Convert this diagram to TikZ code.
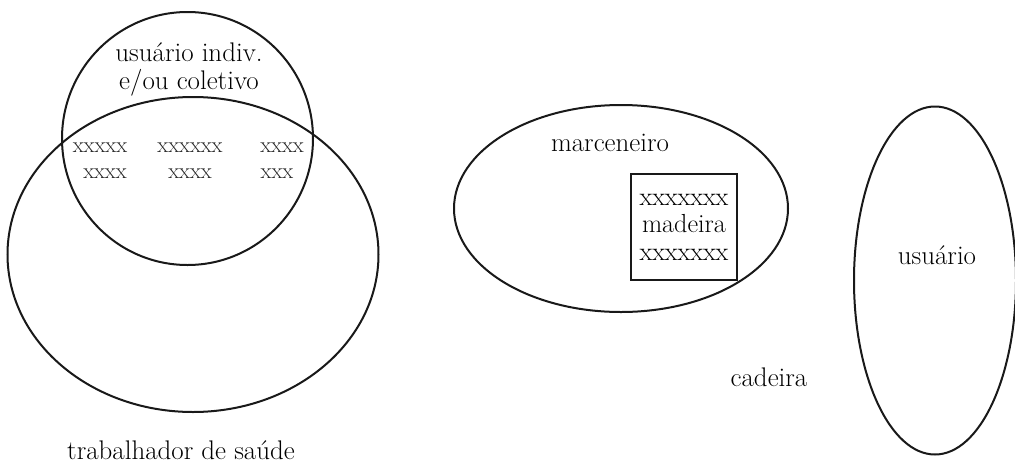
\documentclass[tikz,border=0pt]{standalone}
\usetikzlibrary{shapes.geometric}
\begin{document}
\begin{tikzpicture}[x=0.75pt,y=-0.75pt,
  shapeline/.style={draw=black!90,line width=1.5pt},
  oval/.style={shapeline,ellipse,inner sep=0pt},
  lbl/.style={font=\fontsize{20.2}{21}\selectfont,text=black,inner sep=0pt,align=center},
  xlbl/.style={font=\fontsize{16.8}{18}\selectfont,text=black!85,inner sep=0pt}]
\useasboundingbox (0,0) rectangle (1015,465);
\clip (0,0) rectangle (1015,465);
% left Venn diagram
\node[oval,minimum width=371*0.75pt,minimum height=315*0.75pt] (trab) at (193,254.5) {};
\node[oval,minimum width=251*0.75pt,minimum height=253*0.75pt] (usu) at (187.5,138.5) {};
\node[lbl] (usutxt) at (189,69) {usuário indiv.\\e/ou coletivo};
\node[xlbl] (x11) at (100,148) {xxxxx};
\node[xlbl] (x12) at (190,148) {xxxxxx};
\node[xlbl] (x13) at (282,148) {xxxx};
\node[xlbl] (x21) at (105,174) {xxxx};
\node[xlbl] (x22) at (190,174) {xxxx};
\node[xlbl] (x23) at (277,174) {xxx};
\node[lbl] (trabtxt) at (181,450) {trabalhador de saúde};
% marceneiro
\node[oval,minimum width=334*0.75pt,minimum height=207*0.75pt] (marc) at (621,208.5) {};
\node[lbl] (marctxt) at (610,143) {marceneiro};
\node[shapeline,minimum width=106*0.75pt,minimum height=106*0.75pt,inner sep=0pt] (box) at (684,227) {};
\node[lbl,font=\fontsize{19.6}{20.6}\selectfont] (boxtxt) at (box.center) {xxxxxxx\\madeira\\xxxxxxx};
\node[lbl] (cad) at (769,377) {cadeira};
% usuario
\node[oval,minimum width=162*0.75pt,minimum height=348*0.75pt] (usr) at (935,280.5) {};
\node[lbl] (usrtxt) at (937,255) {usuário};
\end{tikzpicture}
\end{document}
